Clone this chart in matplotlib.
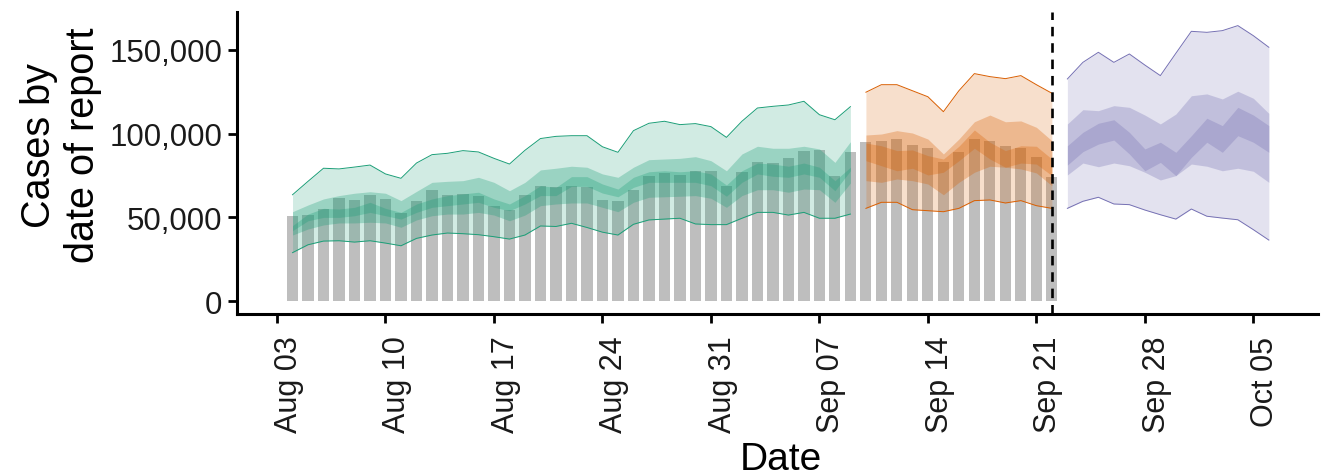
import matplotlib
matplotlib.use("Agg")
import matplotlib.pyplot as plt
import matplotlib.dates as mdates
from matplotlib.ticker import FuncFormatter
from matplotlib.transforms import ScaledTranslation
import pandas as pd

plt.rcParams["font.family"] = ["Liberation Sans", "DejaVu Sans"]

# reported cases by date of report (Aug 04 .. Sep 22)
report_dates = pd.date_range("2020-08-04", "2020-09-22", freq="D")
confirm = [51000, 51600, 55200, 61600, 60600, 63400, 61000, 52800, 60000, 66100,
           63500, 64000, 62600, 57000, 54300, 63500, 68700, 67900, 68900, 68200,
           60400, 60000, 66300, 74700, 76300, 75500, 77800, 77600, 68900, 77200,
           83000, 82400, 85400, 89800, 90000, 74700, 88800, 94800, 95700, 96700,
           93300, 91200, 82800, 89200, 96700, 95500, 92400, 91600, 86000, 74100]

# estimate (Aug 04 .. Sep 09)
est_dates = pd.date_range("2020-08-04", "2020-09-09", freq="D")
est_lower_90 = [29000, 33700, 35900, 36100, 35300, 36100, 34700, 33100, 37500, 39500,
                40700, 40300, 39700, 38500, 37100, 39500, 44900, 44600, 46500, 44000,
                41200, 39500, 45900, 48500, 49000, 49500, 46100, 45700, 45700, 49500,
                53000, 53000, 51400, 53000, 49500, 49500, 52000]
est_upper_90 = [63500, 71500, 79300, 78900, 80000, 81200, 75900, 73300, 82400, 87400,
                88200, 89800, 89000, 85200, 81800, 90000, 97000, 98300, 98700, 98700,
                92100, 88800, 101700, 106100, 107300, 105300, 105900, 104100, 97700, 107300,
                115200, 116200, 117000, 119200, 111200, 108200, 116000]
est_lower_50 = [39500, 43100, 45500, 46700, 46700, 47100, 46700, 44100, 48500, 51000,
                52000, 52000, 53000, 51400, 48000, 51400, 57000, 58000, 58600, 58600,
                56000, 53400, 59000, 62000, 62300, 62600, 63000, 61400, 56000, 63000,
                66500, 66500, 65000, 66900, 66500, 59000, 70500]
est_upper_50 = [53400, 57400, 61000, 63000, 64400, 65300, 64400, 60000, 65500, 70900,
                71500, 71900, 73900, 70900, 65900, 70900, 78300, 79300, 80500, 79900,
                75900, 73900, 79900, 84400, 84800, 85200, 86200, 83800, 77800, 87800,
                92400, 91200, 91200, 92400, 90800, 82800, 95100]
est_lower_20 = [42100, 48000, 50000, 50000, 51000, 53000, 51000, 49000, 53000, 56000,
                57000, 58000, 59000, 56000, 54000, 58000, 63000, 63000, 68500, 68500,
                64500, 62300, 67900, 70900, 70900, 70900, 70900, 68900, 62600, 70900,
                75900, 74500, 73900, 75900, 73900, 65900, 77800]
est_upper_20 = [45100, 52000, 55400, 55000, 56000, 59000, 55400, 53000, 58000, 61000,
                63000, 64000, 65000, 61000, 58000, 63000, 68900, 67900, 74300, 74300,
                69900, 66900, 73900, 77200, 77800, 77200, 77800, 75900, 69300, 77800,
                82400, 81800, 80500, 82400, 79900, 71900, 79900]

# estimate based on partial data (Sep 10 .. Sep 22)
part_dates = pd.date_range("2020-09-10", "2020-09-22", freq="D")
part_lower_90 = [55400, 59000, 59000, 54600, 54000, 53400, 55400, 60000, 60400, 58600,
                 60000, 57000, 55400]
part_upper_90 = [124600, 129100, 129100, 125500, 121900, 113000, 125500, 135700, 133900, 132700,
                 134500, 129100, 124000]
part_lower_50 = [71900, 70900, 72900, 71900, 69900, 63500, 70900, 76900, 80500, 79900,
                 78900, 76500, 68900]
part_upper_50 = [99100, 99700, 101700, 100300, 96700, 87800, 96700, 107000, 111000, 107000,
                 107500, 103700, 95700]
part_lower_20 = [83800, 80800, 77800, 79300, 75300, 76900, 83800, 91200, 84800, 79900,
                 82400, 81800, 74900]
part_upper_20 = [94300, 92700, 89800, 90200, 86800, 84800, 92400, 102100, 94800, 89800,
                 92700, 92400, 84800]

# forecast (Sep 23 .. Oct 06)
fc_dates = pd.date_range("2020-09-23", "2020-10-06", freq="D")
fc_lower_90 = [55400, 59600, 62000, 58000, 57600, 54400, 51600, 49000, 55000, 50700,
               49600, 48600, 42700, 36500]
fc_upper_90 = [132500, 142400, 148400, 142400, 147400, 140800, 134500, 147800, 160900, 160300,
               161300, 164300, 158300, 151400]
fc_lower_50 = [75300, 82400, 80200, 82400, 80800, 76900, 72300, 74900, 81800, 80500,
               77800, 79300, 77500, 70900]
fc_upper_50 = [105700, 114200, 113600, 116600, 115600, 111000, 105700, 111600, 122500, 123600,
               120600, 125200, 121000, 112000]
fc_lower_20 = [81200, 89200, 93700, 96100, 87800, 77800, 82800, 74900, 85800, 94800,
               88800, 98700, 94800, 88800]
fc_upper_20 = [92700, 100700, 106100, 108200, 100700, 90800, 94800, 88800, 98700, 109100,
               104700, 115600, 111000, 104700]

forecast_start = pd.Timestamp("2020-09-22")
tick_dates = pd.date_range("2020-08-03", "2020-10-05", freq="7D")

fig = plt.figure(figsize=(13.22, 4.77), dpi=100)
ax = fig.add_axes([0.1793, 0.3396, 0.818, 0.6338])

ax.bar(report_dates, confirm, width=0.72, color="#BEBEBE", zorder=1)

groups = [
    (est_dates, est_lower_90, est_upper_90, est_lower_50, est_upper_50, est_lower_20, est_upper_20, "#1B9E77"),
    (part_dates, part_lower_90, part_upper_90, part_lower_50, part_upper_50, part_lower_20, part_upper_20, "#D95F02"),
    (fc_dates, fc_lower_90, fc_upper_90, fc_lower_50, fc_upper_50, fc_lower_20, fc_upper_20, "#7570B3"),
]
for dates, l90, u90, l50, u50, l20, u20, col in groups:
    ax.fill_between(dates, l90, u90, color=col, alpha=0.2, lw=0, zorder=2)
    ax.plot(dates, l90, color=col, lw=0.7, zorder=3)
    ax.plot(dates, u90, color=col, lw=0.7, zorder=3)
    ax.fill_between(dates, l50, u50, color=col, alpha=0.3, lw=0, zorder=2)
    ax.fill_between(dates, l20, u20, color=col, alpha=0.3, lw=0, zorder=2)

ax.axvline(forecast_start, color="black", ls=(0, (3.6, 2.6)), lw=1.9, zorder=4)

ax.set_xlim(pd.Timestamp("2020-08-03") - pd.Timedelta(days=2.58),
            pd.Timestamp("2020-08-03") + pd.Timedelta(days=67.2))
ax.set_ylim(-7570, 172600)
ax.set_xticks(tick_dates)
ax.xaxis.set_major_formatter(mdates.DateFormatter("%b %d"))
ax.set_yticks([0, 50000, 100000, 150000])
ax.yaxis.set_major_formatter(FuncFormatter(lambda v, p: f"{int(v):,}"))

for s in ["top", "right"]:
    ax.spines[s].set_visible(False)
for s in ["left", "bottom"]:
    ax.spines[s].set_linewidth(2.2)
ax.tick_params(axis="y", labelsize=22.5)
ax.tick_params(axis="both", length=6.5, width=2.0, color="black",
               labelcolor="#1a1a1a", pad=4)
ax.tick_params(axis="x", labelsize=22, pad=9)

# rotated labels sit just right of their tick, as in the original
shift = ScaledTranslation(0.12, 0, fig.dpi_scale_trans)
for lab in ax.get_xticklabels():
    lab.set_rotation(90)
    lab.set_transform(lab.get_transform() + shift)

ax.set_xlabel("Date", fontsize=28)
ax.xaxis.set_label_coords(0.503, -0.42)
ax.set_ylabel("Cases by\ndate of report", fontsize=28.5)
ax.yaxis.set_label_coords(-0.125, 0.56)

fig.savefig("out.png", dpi=100)
